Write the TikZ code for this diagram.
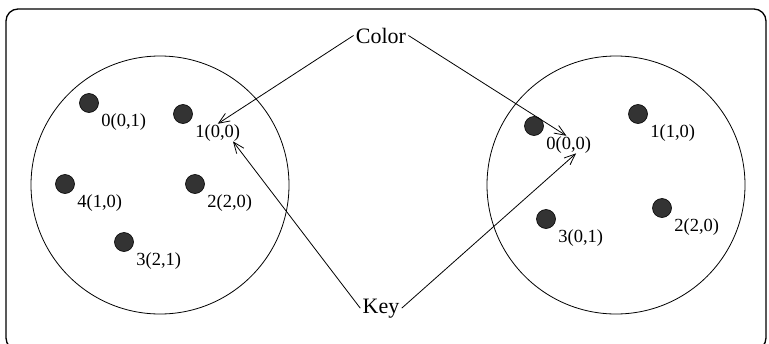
\documentclass[tikz,border=0pt]{standalone}
\usepackage{fontspec}
\setmainfont{Liberation Serif}
\usetikzlibrary{arrows.meta,positioning}

\begin{document}
\begin{tikzpicture}[x=1pt,y=-1pt,>={Straight Barb[length=11pt,width=9pt]},line width=0.8pt,
  set/.style={circle,draw,minimum size=258pt,inner sep=0pt},
  dot/.style={circle,fill=black!80,draw=black,line width=0.6pt,minimum size=19pt,inner sep=0pt},
  lbl/.style={anchor=base west,inner sep=0pt,font=\fontsize{18.5}{20}\selectfont},
  word/.style={anchor=base,inner sep=2pt,font=\fontsize{22}{24}\selectfont}]
  \useasboundingbox (0,0) rectangle (769,343);
  \draw[line width=1.3pt,rounded corners=12pt] (6,9) rectangle (766,350);
  \node[set] (left) at (160,185) {};
  \node[set] (right) at (616,185) {};
  % elements with their labels
  \foreach \n/\x/\y/\t in {l0/89/103/{0(0,1)},l1/183/114/{1(0,0)},l4/65/184/{4(1,0)},
      l2/195/184/{2(2,0)},l3/124/242/{3(2,1)},r0/534/126/{0(0,0)},r1/638/114/{1(1,0)},
      r3/546/219/{3(0,1)},r2/662/208/{2(2,0)}}{
    \node[dot] (\n) at (\x,\y) {};
    \node[lbl] (t\n) at ([shift={(12,23)}]\n) {\t};
  }
  \node[word] (clr) at (381,43) {Color};
  \node[word] (key) at (381,313) {Key};
  \path[->]
    (clr.west) edge (tl1.north)
    (clr.east) edge (tr0.105)
    (key.west) edge (tl1.-30)
    (key.east) edge (tr0.-50);
\end{tikzpicture}
\end{document}
